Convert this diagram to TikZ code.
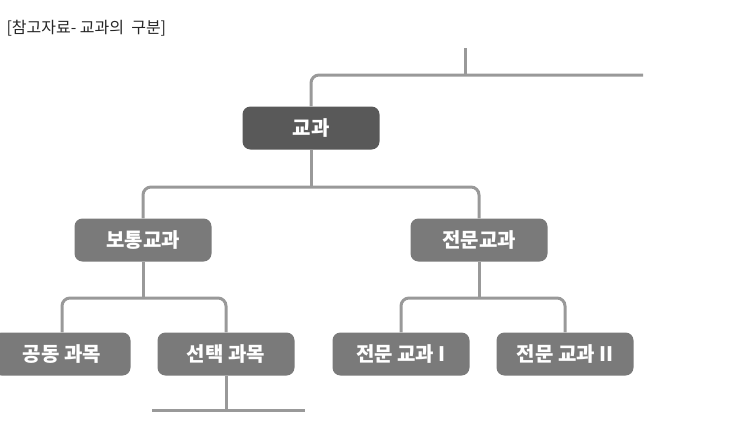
\documentclass[tikz,border=0pt]{standalone}
\usepackage{fontspec}
\newfontfamily\kr{Noto Sans CJK KR}
\begin{document}
\begin{tikzpicture}[x=1pt,y=-1pt,
  box/.style={rounded corners=8pt,minimum width=137pt,minimum height=43pt,inner sep=0pt,text=white,font=\kr\bfseries\fontsize{20}{22}\selectfont},
  lv1/.style={box,fill=black!65},
  lv2/.style={box,fill=black!52},
  ln/.style={draw=black!40,line width=3pt,rounded corners=8pt}]
\useasboundingbox (0,0) rectangle (749,442);
\node[anchor=west,font=\kr\fontsize{16}{18}\selectfont,text=black!85] (t) at (3,28) {[참고자료- 교과의~ 구분]};
\node[lv1] (g) at (311,128) {교과};
\node[lv2] (b) at (143,240) {보통교과};
\node[lv2] (j) at (479,240) {전문교과};
\node[lv2] (c) at (62,354) {공동 과목};
\node[lv2] (s) at (226,354) {선택 과목};
\node[lv2] (j1) at (401,354) {전문 교과 I};
\node[lv2] (j2) at (565,354) {전문 교과 II};
\coordinate (top) at (465,48);
\coordinate (right) at (643,75);
\coordinate (bl) at (152,410);
\coordinate (br) at (305,410);
\draw[ln] (top) -- (465,75);
\draw[ln] (g.north) -- (311,75) -- (right);
\draw[ln] (b.north) -- (143,187) -- (479,187) -- (j.north);
\draw[ln,sharp corners] (g.south) -- (311,187);
\draw[ln] (c.north) -- (62,298) -- (226,298) -- (s.north);
\draw[ln,sharp corners] (b.south) -- (143,298);
\draw[ln] (j1.north) -- (401,298) -- (565,298) -- (j2.north);
\draw[ln,sharp corners] (j.south) -- (479,298);
\draw[ln,sharp corners] (s.south) -- (226,410);
\draw[ln] (bl) -- (br);
\fill[white] (0,414) rectangle (749,442);
\end{tikzpicture}
\end{document}
